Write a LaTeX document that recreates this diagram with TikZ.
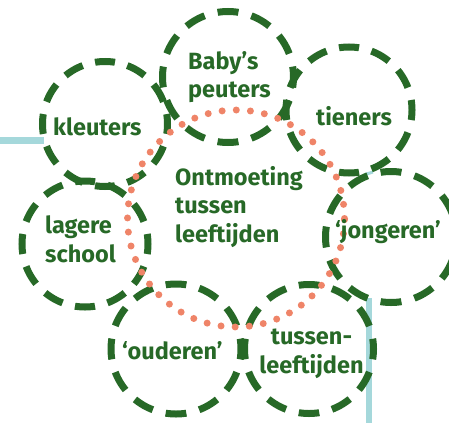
\documentclass[tikz,border=0pt]{standalone}
\usepackage{fontspec}
\setmainfont{Fira Sans}
\definecolor{dkg}{HTML}{276927}
\definecolor{salmon}{HTML}{EF8468}
\definecolor{teal}{HTML}{A5D8DB}
\begin{document}
\begin{tikzpicture}[x=1pt,y=-1pt,
  ring/.code={%
    \pgfmathsetmacro\rP{2*pi*#1/12}%
    \pgfmathsetmacro\rD{0.61*\rP}%
    \pgfmathsetmacro\rG{\rP-\rD}%
    \pgfmathsetmacro\rH{\rD/2}%
    \tikzset{circle, draw=dkg, line width=7pt, inner sep=0pt,
      minimum size={2*#1pt}, dash pattern=on \rD pt off \rG pt, dash phase=\rH pt}},
  lbl/.style={text=dkg, font=\fontsize{23.5}{28.5}\selectfont\bfseries, inner sep=0pt},
  tealline/.style={draw=teal, line width=6.5pt},
]
\useasboundingbox (0,0) rectangle (449,423);
% teal pieces
\coordinate (t1a) at (0,140.5);
\coordinate (t1b) at (44,140.5);
\draw[tealline] (t1a) -- (t1b);
\coordinate (t2a) at (369,298);
\coordinate (t2b) at (369,423);
\draw[tealline] (t2a) -- (t2b);
\coordinate (t3a) at (365,174.5);
\coordinate (t3b) at (373,172);
\draw[teal, line width=3pt] (t3a) -- (t3b);
% rings
\node[ring=62.5] (kl) at (105,124) {};
\node[ring=65.5] (bp) at (228,77) {};
\node[ring=63] (ti) at (349,110) {};
\node[ring=65.5] (jo) at (391,237) {};
\node[ring=64.5] (tl) at (309,349) {};
\node[ring=65] (ou) at (176,349) {};
\node[ring=63] (ls) at (85,244) {};
% dotted circle
\node[circle, inner sep=0pt, minimum size=217pt, draw=salmon, line width=7pt,
  line cap=round, dash pattern=on 0pt off 14.18pt] (dots) at (236,218.5) {};
% labels (multi-line nodes: base = last line)
\node[lbl, anchor=base west, align=left] (tbp) at (188,97.5) {Baby’s\\peuters};
\node[lbl, anchor=base west] (tkl) at (53,135) {kleuters};
\node[lbl, anchor=base west] (tti) at (316,125) {tieners};
\node[lbl, anchor=base west, align=left] (tmid) at (175,242) {Ontmoeting\\tussen\\leeftijden};
\node[lbl, anchor=base west, align=left] (tls) at (45,262) {lagere\\school};
\node[lbl, anchor=base west] (tjo) at (335,238) {‘jongeren’};
\node[lbl, anchor=base west] (tou) at (122,359) {‘ouderen’};
\node[lbl, anchor=base, align=center] (ttl) at (311.5,373) {tussen-\\leeftijden};
\end{tikzpicture}
\end{document}
